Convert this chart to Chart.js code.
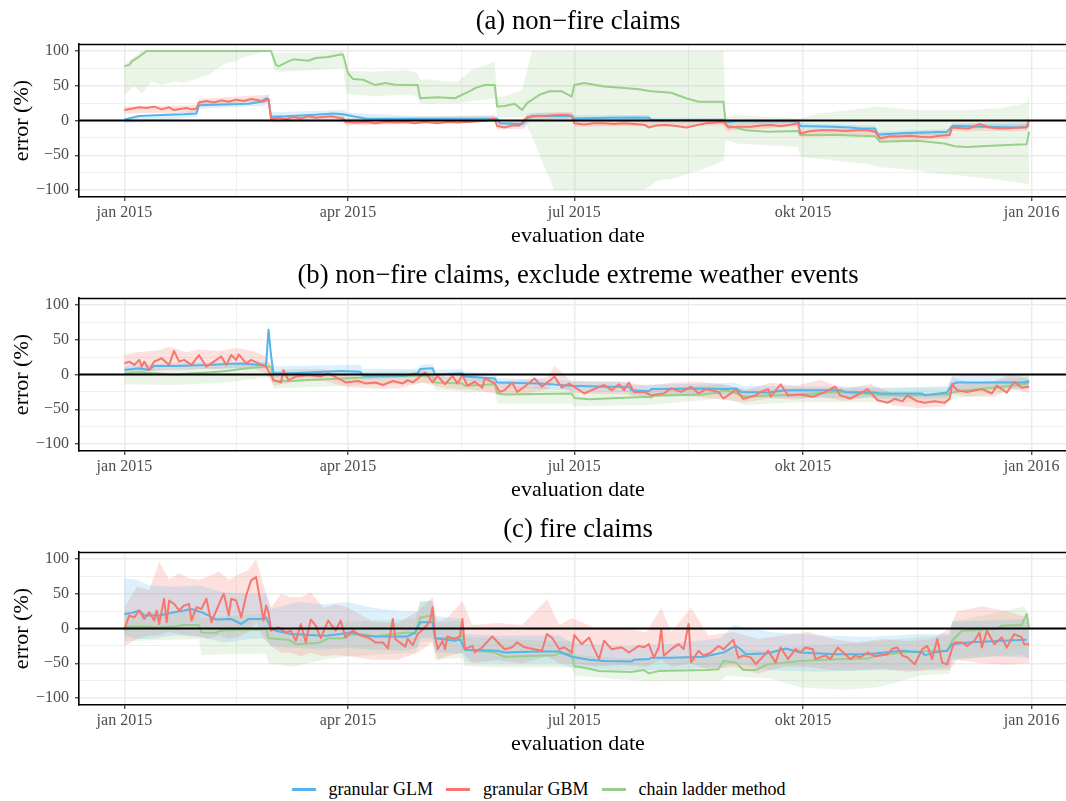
<!DOCTYPE html>
<html><head><meta charset="utf-8">
<script src="https://cdn.jsdelivr.net/npm/chart.js@4.4.1/dist/chart.umd.min.js"></script>
<style>
html,body{margin:0;padding:0;width:1066px;height:801px;overflow:hidden;background:#fff;}
.panel{position:absolute;left:0;width:1077px;height:254px;}
#legend{position:absolute;left:0;top:770px;width:1077px;height:39px;display:flex;justify-content:center;align-items:center;font-family:"Liberation Serif",serif;font-size:18px;color:#000;}
.item{display:flex;align-items:center;margin-right:13px;}
.item:last-child{margin-right:0;}
.sw{width:24px;height:2.6px;margin-right:13px;}
</style></head><body>
<div class="panel" style="top:0px"><canvas id="cA" width="1077" height="254"></canvas></div>
<div class="panel" style="top:254px"><canvas id="cB" width="1077" height="254"></canvas></div>
<div class="panel" style="top:508px"><canvas id="cC" width="1077" height="254"></canvas></div>
<div id="legend"></div>
<script>
// ---------------- data (day of 2015 = 0 .. 364, error in %) ----------------
const xTickDays = [0, 90, 181, 273, 365];
const xTickLabels = ['jan 2015', 'apr 2015', 'jul 2015', 'okt 2015', 'jan 2016'];
const xMinorDays = [45, 135.5, 227, 319];
const yTickValues = [-100, -50, 0, 50, 100];
const yMinorValues = [-75, -25, 25, 75];
const seriesNames = ['granular GLM', 'granular GBM', 'chain ladder method'];
const panelTitles = ['(a) non\u2212fire claims', '(b) non\u2212fire claims, exclude extreme weather events', '(c) fire claims'];

// panel (a): [day, value]; bands: [day, lower, upper]
const glmA = [[0,1],[3,4],[6,6.5],[15,8],[24,9],[29,10],[30,22],[40,23],[50,24],[55,27],[57,32],[58,30],[59,5.5],[65,6],[75,8],[84,10],[88,9],[92,6],[97,3],[110,2.7],[130,2.5],[150,2.7],[151,-4],[160,-5],[162,3],[164,6.5],[180,6.5],[181,3],[195,4],[205,4.5],[211,4],[212,0.7],[241,0.7],[242,-3],[246,-1],[271,-0.7],[272,-8],[285,-9],[292,-10],[296,-11.4],[302,-11.4],[303,-20],[315,-18],[331,-16.2],[333,-8],[345,-9],[360,-10],[363,-9],[364,-6.5]];
const glmA_band = [[0,-4,4],[29,5,14],[30,17,27],[56,21,32],[58,24,38],[59,0,12],[88,4,15],[90,1,11],[120,-1,6],[150,-1,6],[151,-8,0],[161,-9,-1],[164,1,11],[180,2,11],[181,-1,8],[211,0,8],[212,-3,4],[241,-3,4],[242,-6,1],[271,-4,2],[272,-12,-4],[302,-15,-7],[303,-24,-16],[332,-20,-12],[333,-12,-4],[364,-11,-2]];
const gbmA = [[0,15],[3,17],[6,19],[9,18],[12,20],[15,16],[18,19],[20,15],[23,17],[25,18],[27,16],[29,17],[30,26],[33,28],[36,26],[39,29],[42,27],[45,30],[48,28],[51,31],[54,29],[56,27],[58,31],[59,2],[62,4],[65,2],[68,5],[71,3],[74,6],[77,4],[80,5],[83,6],[86,4],[88,3],[89,-2],[93,-3],[97,-2],[101,-4],[105,-2],[109,-3],[113,-2],[117,-4],[121,-2],[126,-4],[130,-2],[134,-3],[138,-2],[142,-1],[146,0],[149,3],[150,-8],[153,-10],[156,-7],[159,-7],[162,5],[166,6.5],[170,7],[174,8],[178,8],[180,7],[181,-4],[185,-5.6],[189,-4],[193,-4],[197,-5],[201,-4],[205,-5],[209,-6],[211,-10],[214,-7],[218,-6.5],[222,-8],[226,-10],[230,-7],[234,-4],[238,-3],[241,-2],[243,-10],[247,-9],[252,-9],[256,-7],[260,-6.5],[264,-8],[268,-6],[271,-4],[272,-18.6],[276,-15],[280,-14],[285,-14],[290,-15],[295,-14],[299,-14],[302,-16],[304,-25.8],[308,-22.5],[312,-23],[316,-22],[320,-23.4],[324,-24],[328,-22],[332,-21],[333,-10],[337,-11],[340,-11.4],[344,-5],[348,-10],[352,-11.4],[356,-11],[360,-10],[363,-10],[364,1]];
const gbmA_band = [[0,10,20],[29,12,22],[30,21,31],[58,26,37],[59,-3,7],[88,-2,8],[89,-7,3],[149,-2,8],[150,-13,-3],[161,-12,-2],[162,0,10],[180,3,13],[181,-9,1],[241,-7,3],[242,-15,-5],[271,-9,1],[272,-24,-13],[302,-21,-11],[304,-31,-20],[332,-26,-16],[333,-15,-5],[363,-15,-5],[364,-4,6]];
const clmA = [[0,78],[2,80],[3,85],[6,92],[9,100],[59,100],[61,80],[62,78],[66,85],[68,88],[74,86],[77,90],[82,91.5],[87,95],[88,95],[90,68],[92,59.6],[96,58.7],[101,51],[105,54],[109,51.4],[113,51],[118,51],[119,32],[126,33.6],[133,32],[137,39],[140,44],[141,46.6],[145,51],[149,51],[150,20],[153,21],[157,24],[160,15],[162,25],[167,37],[171,42],[176,42],[180,34.5],[181,51],[185,54],[193,49],[200,47],[207,45],[212,42],[220,40],[226,32],[231,27],[241,27],[242,-6.5],[247,-11],[250,-14],[259,-16],[271,-15],[272,-21],[286,-21],[302,-22.5],[304,-30.7],[319,-29],[330,-33],[334,-37],[339,-38],[353,-35.5],[363,-34],[364,-16]];
const clmA_band = [[0,37,80],[4,49,92],[7,39,100],[11,56,100],[15,51,100],[20,56,100],[24,54,100],[28,59,100],[34,66,100],[37,73,100],[41,83,100],[45,85,100],[47,90,100],[55,98,100],[59,100,100],[60,75,97],[61,70,97],[75,72,98],[88,76,100],[89,45,80],[90,38,72],[100,35,70],[113,37,73],[118,35,68],[119,25,59],[124,24,59],[129,25,56],[134,25,56],[140,28,73],[144,30,78],[149,32,85],[150,5,34],[153,5,35],[160,5,44],[164,-23,100],[169,-67,100],[173,-100,100],[209,-100,100],[215,-86,100],[220,-84,100],[233,-70,100],[241,-58,100],[242,-28,5],[246,-33,8],[271,-38,3],[272,-52,3],[279,-55,10],[292,-60,15],[299,-62,18],[303,-67,20],[319,-72,15],[326,-76,15],[339,-80,15],[353,-86,18],[363,-91,25],[364,-91,37]];

// panel (b)
const glmB = [[0,6.5],[6,9],[10,6.5],[12,12.3],[20,12.3],[34,13.8],[41,15.2],[47,16],[55,13.8],[57,13],[58,64.5],[59,28],[60,1.7],[67,1.7],[74,3],[87,5],[95,4],[96,-1.7],[113,-1.7],[118,1.7],[119,8],[124,9],[125,0],[136,1.7],[137,-3],[149,-5.6],[150,-11.4],[167,-12.8],[180,-16],[193,-17.6],[203,-17.6],[204,-22.5],[211,-24],[212,-21],[233,-20],[242,-21],[246,-20],[248,-25],[259,-25.8],[266,-22.5],[272,-22.5],[288,-22.5],[290,-25],[302,-26],[304,-27.3],[321,-27.3],[322,-29.7],[331,-25.8],[333,-14],[335,-11.4],[362,-11.4],[364,-9.4]];
const glmB_band = [[0,2,12],[20,8,17],[57,9,18],[58,55,76],[59,20,36],[60,-4,12],[95,-2,14],[96,-7,8],[118,-4,8],[119,2,14],[124,3,15],[125,-6,6],[136,-4,8],[137,-9,4],[149,-12,2],[150,-18,-5],[180,-23,-9],[203,-25,-11],[204,-30,-15],[246,-28,-12],[248,-33,-16],[302,-34,-18],[304,-35,-19],[331,-34,-17],[333,-24,-2],[364,-19,2]];
const gbmB = [[0,16],[2,18.6],[4,13.8],[6,21],[7,11.4],[8,18.6],[10,6.5],[12,18.6],[15,23.4],[18,13.8],[20,34],[22,18.6],[24,21],[27,13.8],[30,28],[33,11.4],[35,16],[39,26],[41,13.8],[43,28],[45,21],[46,29],[49,16],[51,21],[54,16],[57,11.4],[60,-8],[63,-11.4],[64,6.5],[66,-8],[69,-3],[74,-0.7],[79,-3],[82,1.7],[86,-5.6],[89,-11.4],[94,-9.4],[97,-12.8],[101,-11.4],[104,-15],[108,-9.4],[112,-12.8],[114,-8],[116,-11.4],[118,-5.6],[121,3],[124,-11.4],[126,-2],[129,-14],[132,-2],[134,-13],[136,-0.7],[138,-16],[141,-10.4],[144,-19],[145,-5.6],[149,-12.8],[151,-25],[153,-22.5],[156,-11.4],[158,-25],[161,-17.6],[165,-5.6],[168,-17.6],[173,-3.1],[176,-19],[179,-13],[183,-22.5],[185,-27.3],[189,-21],[193,-15],[196,-22.5],[199,-14],[201,-22.5],[203,-11.4],[205,-25],[209,-25],[212,-30],[217,-27.3],[220,-20],[224,-25],[228,-17.6],[231,-27.3],[234,-21],[239,-25],[241,-34.5],[246,-22],[249,-35],[254,-30],[256,-25],[259,-21],[260,-32],[264,-14],[267,-30],[272,-28.7],[277,-32],[282,-25],[286,-17.6],[288,-30],[292,-34.5],[296,-27.3],[299,-21],[303,-37],[307,-40.6],[310,-35],[313,-38.6],[315,-30],[319,-38.6],[322,-40.6],[326,-38.6],[330,-40.6],[332,-35],[333,-14],[335,-22.5],[339,-25],[345,-21],[349,-27.3],[351,-16],[355,-26],[358,-10.4],[361,-19],[364,-17.6]];
const gbmB_band = [[0,5,28],[5,3,32],[14,6,35],[18,6,40],[25,6,32],[30,8,36],[38,8,34],[45,10,38],[52,8,34],[57,2,26],[60,-16,5],[70,-10,8],[80,-9,8],[90,-18,-2],[100,-20,-4],[110,-20,-2],[120,-12,6],[130,-20,-4],[140,-22,0],[150,-28,-10],[160,-28,-8],[170,-22,-4],[173,-12,12],[180,-26,-10],[190,-28,-10],[200,-28,-10],[210,-32,-16],[220,-30,-12],[230,-32,-10],[240,-36,-14],[250,-40,-22],[260,-34,-12],[270,-36,-16],[280,-32,-8],[290,-38,-20],[300,-32,-14],[310,-45,-28],[320,-48,-30],[330,-46,-30],[333,-28,-4],[340,-32,-12],[350,-32,-10],[357,-20,2],[364,-27,-7]];
const clmB = [[0,1.7],[7,3],[20,0],[34,3],[41,5],[47,8],[57,11.4],[59,11],[60,-9.4],[67,-9.4],[74,-8],[88,-5.6],[101,-3.1],[117,-1.7],[119,-1.7],[124,-3],[125,-11.4],[136,-12.8],[137,-16],[149,-14],[150,-27.3],[153,-28.7],[180,-27.3],[181,-33.6],[187,-35.5],[211,-32],[212,-33],[213,-30.7],[233,-28.7],[239,-26],[241,-22.5],[245,-25],[246,-27.3],[250,-32],[259,-30],[272,-28.7],[286,-25],[290,-26],[302,-28.7],[313,-30],[326,-29],[331,-28.7],[334,-25],[339,-22.5],[353,-17.6],[362,-14],[364,-11.4]];
const clmB_band = [[0,-14,9],[20,-15,8],[40,-12,12],[57,-4,18],[59,-4,18],[60,-20,-2],[90,-16,3],[124,-12,6],[125,-22,-4],[136,-24,-5],[137,-26,-8],[149,-24,-6],[150,-42,-18],[180,-42,-18],[181,-46,-24],[211,-44,-22],[241,-34,-14],[250,-44,-22],[272,-40,-20],[302,-40,-20],[331,-40,-19],[334,-35,-16],[364,-20,-3]];

// panel (c)
const glmC = [[0,21],[3,22.5],[6,26],[8,18.6],[14,18.6],[20,23.4],[24,26],[27,28],[31,23.4],[34,18.6],[37,12.8],[43,13.8],[47,6.5],[50,13.8],[55,13.8],[57,16],[59,0],[61,-3.1],[67,-8],[74,-9.4],[81,-10.4],[87,-8],[91,-5.6],[95,-9.4],[101,-11.4],[114,-11.4],[117,-5.6],[119,9],[124,9],[125,-14],[133,-17.6],[135,-15],[137,-30.7],[150,-32],[153,-34.5],[166,-33],[175,-33],[180,-40.6],[187,-45],[193,-46.6],[204,-47.6],[205,-45],[211,-44],[212,-42],[220,-42],[233,-40.6],[241,-34.5],[244,-28.7],[246,-25],[248,-30],[250,-37],[259,-35.5],[266,-28.7],[272,-34.5],[286,-37],[299,-37],[313,-32],[321,-34.5],[322,-38.6],[326,-34],[331,-32],[333,-22.5],[339,-20],[353,-17.6],[363,-16]];
const glmC_band = [[0,-10,72],[5,-15,70],[10,-15,62],[20,-10,60],[30,-12,62],[40,-20,52],[50,-15,50],[57,-14,50],[59,-26,28],[70,-28,38],[80,-30,35],[90,-28,38],[100,-30,30],[112,-32,25],[118,-28,25],[119,-14,40],[124,-14,40],[125,-34,18],[136,-36,14],[137,-48,-8],[150,-50,-10],[175,-50,-10],[180,-57,-20],[200,-60,-26],[220,-60,-22],[240,-55,-14],[245,-50,5],[260,-60,-5],[280,-62,-10],[300,-60,-12],[320,-60,-8],[332,-56,-8],[333,-44,10],[350,-40,12],[364,-42,14]];
const gbmC = [[0,0],[2,18.6],[4,16],[6,26],[8,13.8],[10,23.4],[12,11.4],[13,26],[14,6.5],[16,42.8],[17,9],[18,40.3],[20,35.5],[22,26],[24,33],[26,35.5],[27,11.4],[29,30.7],[31,28],[33,42.8],[35,9],[37,26],[39,42.8],[40,50],[42,18.6],[43,42.8],[45,40.3],[47,16],[49,47.6],[51,69.3],[53,74],[55,33],[56,11.4],[57,33],[58,23.4],[59,-3.1],[62,1.7],[65,-5.6],[67,-3],[69,-17.6],[71,6.5],[73,-20],[74,-3],[75,12.8],[77,4],[79,-14],[82,11.4],[85,-3],[87,11.4],[89,-12.8],[92,-3],[95,-10],[98,-12.8],[101,-20],[104,-20],[106,-28.7],[108,13.8],[109,-15],[113,-26],[114,-15],[116,-24],[118,-8],[121,1.7],[123,11],[124,30.7],[125,-10],[126,-29.7],[128,-18],[129,-29.7],[130,-11.4],[133,-15],[135,-11.4],[136,13.8],[137,-29.7],[140,-25],[141,-34.5],[144,-27],[148,-11.4],[150,-19],[153,-29.7],[156,-27],[158,-20],[161,-27],[165,-29.7],[168,-32],[170,-8],[172,-13],[175,-29.7],[177,-27],[180,-34.5],[181,-9.4],[184,-22.5],[187,-13],[189,-29.7],[191,-44],[193,-17.6],[196,-29.7],[200,-27],[203,-34.5],[207,-25],[209,-27],[211,-22.5],[213,-42],[215,-27],[216,-0.7],[217,-39],[220,-29.7],[223,-22.5],[225,-29.7],[227,6.5],[228,-49],[231,-32],[233,-39],[236,-34.5],[239,-25],[241,-29.7],[245,-16],[247,-42],[249,-39],[252,-41.5],[254,-51.4],[256,-44],[259,-32],[262,-49],[264,-27.3],[267,-44],[270,-29.7],[272,-34.5],[274,-27.3],[277,-29.7],[278,-44],[282,-38.6],[284,-44],[287,-27.3],[290,-37],[292,-44],[294,-39],[296,-41.5],[299,-34.5],[302,-40],[307,-37],[309,-29],[311,-27.3],[313,-39],[315,-41.5],[318,-51.4],[321,-29.7],[323,-25],[325,-44],[327,-15],[329,-49],[331,-51.4],[333,-28.7],[334,-20],[337,-20],[339,-25],[342,-17.6],[344,-5.6],[345,-27.3],[347,-3.1],[350,-22.5],[353,-12.8],[355,-27.3],[358,-8],[361,-12.8],[362,-22.5],[364,-22.5]];
const gbmC_band = [[0,-25,30],[5,-15,60],[10,-10,55],[14,-10,96],[18,-5,70],[22,-8,80],[26,-10,72],[30,-12,70],[34,-15,75],[38,-10,82],[42,-15,70],[46,-12,78],[50,-5,85],[53,10,100],[56,-15,62],[59,-25,30],[63,-35,50],[67,-35,45],[71,-40,45],[75,-35,52],[80,-40,30],[85,-38,35],[90,-40,30],[100,-45,10],[110,-45,8],[118,-35,25],[124,-20,45],[126,-45,10],[130,-40,15],[136,-35,40],[140,-50,5],[150,-45,8],[160,-50,5],[170,-40,42],[175,-50,5],[180,-50,15],[190,-55,0],[200,-52,0],[210,-55,-5],[216,-45,30],[220,-55,-5],[228,-50,30],[235,-60,-10],[245,-55,-5],[255,-65,-15],[265,-55,-10],[275,-55,-5],[285,-60,-15],[295,-60,-20],[305,-58,-15],[315,-62,-18],[325,-60,-15],[332,-60,0],[335,-45,25],[345,-50,32],[355,-52,25],[364,-50,15]];
const clmC = [[0,-3],[1,3],[7,3],[14,1.7],[20,3],[24,5],[30,5],[31,-5.6],[37,-6.5],[38,-3.1],[45,-1.7],[55,-1.7],[57,0],[58,-14],[66,-16],[69,-22.5],[78,-21],[82,-14],[88,-14],[90,-9.4],[95,-8],[101,-11.4],[108,-8],[114,-5.6],[117,-7],[119,16],[124,18.6],[125,-14],[133,-14],[136,-9.4],[137,-30.7],[149,-34.5],[153,-40.6],[173,-38.6],[175,-35.5],[180,-37],[181,-54],[185,-56.3],[191,-61],[204,-62.5],[209,-59.7],[211,-64.5],[215,-61],[234,-59.7],[239,-58.7],[241,-46.6],[246,-49],[249,-59.7],[254,-59.7],[259,-51.4],[272,-46.6],[286,-44.2],[299,-43],[303,-39],[313,-34.5],[326,-32],[331,-32],[333,-17.6],[337,-3.1],[351,-0.7],[353,4],[361,5],[363,21],[364,0]];
const clmC_band = [[0,-18,23],[30,-15,25],[31,-38,15],[57,-36,22],[58,-50,5],[68,-55,-2],[80,-45,4],[90,-40,10],[117,-35,14],[119,-20,38],[124,-18,40],[125,-45,8],[136,-42,12],[137,-54,-12],[150,-56,-15],[174,-56,-18],[180,-56,-18],[181,-68,-38],[210,-76,-45],[240,-75,-40],[242,-68,-30],[260,-72,-32],[272,-85,-25],[290,-88,-22],[303,-85,-18],[320,-68,-12],[332,-65,-10],[333,-46,10],[350,-40,22],[362,-38,32],[364,-45,20]];

// ---------------- styling ----------------
const X_MIN = -18.25, X_MAX = 383.25, Y_MIN = -110, Y_MAX = 110;
const FONT = '"Liberation Serif", "Times New Roman", serif';
const COLORS = ['#56B4E9', '#F8766D', '#98CF8B'];
const BANDS = ['rgba(86,180,233,0.2)', 'rgba(248,118,109,0.22)', 'rgba(152,207,139,0.2)'];
const GRID_MAJOR = '#EBEBEB';

const toPts = a => a.map(r => ({x: r[0], y: r[1]}));
const toLo = a => a.map(r => ({x: r[0], y: r[1]}));
const toHi = a => a.map(r => ({x: r[0], y: r[2]}));
const minus = v => (v < 0 ? '\u2212' + Math.abs(v) : String(v));

const frameTop = {
  id: 'frameTop',
  afterDraw(chart) {
    const {ctx, chartArea: a} = chart;
    ctx.save();
    ctx.strokeStyle = '#000';
    ctx.lineWidth = 1.6;
    ctx.beginPath();
    ctx.moveTo(a.left - 0.8, Math.round(a.top) + 0.5);
    ctx.lineTo(a.right, Math.round(a.top) + 0.5);
    ctx.stroke();
    ctx.restore();
  }
};

function bandSets(band, i) {
  return [
    {data: toLo(band), borderColor: 'rgba(0,0,0,0)', borderWidth: 0, pointRadius: 0, fill: false, order: 10 + i},
    {data: toHi(band), borderColor: 'rgba(0,0,0,0)', borderWidth: 0, pointRadius: 0, fill: '-1', backgroundColor: BANDS[i], order: 10 + i}
  ];
}
function lineSet(arr, i, order) {
  return {data: toPts(arr), borderColor: COLORS[i], borderWidth: 2, pointRadius: 0, fill: false, tension: 0, order: order, borderJoinStyle: 'round'};
}

function makePanel(id, title, glm, glmBand, gbm, gbmBand, clm, clmBand) {
  const datasets = [
    ...bandSets(clmBand, 2),
    ...bandSets(glmBand, 0),
    ...bandSets(gbmBand, 1),
    lineSet(clm, 2, 4),
    lineSet(glm, 0, 3),
    lineSet(gbm, 1, 2),
    {data: [{x: X_MIN, y: 0}, {x: X_MAX, y: 0}], borderColor: '#000', borderWidth: 2, pointRadius: 0, fill: false, order: 0}
  ];
  new Chart(document.getElementById(id), {
    type: 'line',
    data: {datasets},
    plugins: [frameTop],
    options: {
      responsive: false,
      animation: false,
      events: [],
      layout: {padding: 0},
      plugins: {
        legend: {display: false},
        tooltip: {enabled: false},
        filler: {drawTime: 'beforeDatasetsDraw'},
        title: {display: true, text: title, fullSize: false, color: '#000',
          font: {family: FONT, size: 26.7, weight: 'normal'}, padding: {top: 6.4, bottom: 5.6}}
      },
      scales: {
        x: {
          type: 'linear', min: X_MIN, max: X_MAX,
          afterBuildTicks: s => { s.ticks = [...xTickDays, ...xMinorDays].sort((a, b) => a - b).map(v => ({value: v})); },
          afterFit: s => { s.height = 57; s.paddingLeft = 0; s.paddingRight = 0; },
          ticks: {autoSkip: false, maxRotation: 0, padding: 2, color: '#4D4D4D',
            font: {family: FONT, size: 16},
            callback: v => { const k = xTickDays.indexOf(v); return k >= 0 ? xTickLabels[k] : ''; }},
          grid: {
            color: c => GRID_MAJOR,
            lineWidth: c => (c.tick && xTickDays.includes(c.tick.value)) ? 1.5 : 0.8,
            drawTicks: true, tickLength: 4, tickWidth: 1.2,
            tickColor: c => (c.tick && xTickDays.includes(c.tick.value)) ? '#333' : 'rgba(0,0,0,0)'
          },
          border: {display: true, color: '#000', width: 1.6},
          title: {display: true, text: 'evaluation date', color: '#000',
            font: {family: FONT, size: 22}, padding: {top: 0, bottom: 4.5}}
        },
        y: {
          type: 'linear', min: Y_MIN, max: Y_MAX,
          afterBuildTicks: s => { s.ticks = [...yTickValues, ...yMinorValues].sort((a, b) => a - b).map(v => ({value: v})); },
          afterFit: s => { s.width = 79; s.paddingTop = 0; s.paddingBottom = 0; },
          ticks: {autoSkip: false, padding: 6, color: '#4D4D4D',
            font: {family: FONT, size: 16},
            callback: v => yTickValues.includes(v) ? minus(v) : ''},
          grid: {
            color: c => GRID_MAJOR,
            lineWidth: c => (c.tick && yTickValues.includes(c.tick.value)) ? 1.5 : 0.8,
            drawTicks: true, tickLength: 4, tickWidth: 1.2,
            tickColor: c => (c.tick && yTickValues.includes(c.tick.value)) ? '#333' : 'rgba(0,0,0,0)'
          },
          border: {display: true, color: '#000', width: 1.6},
          title: {display: true, text: 'error (%)', color: '#000',
            font: {family: FONT, size: 22}, padding: {top: 9.3, bottom: 0}}
        }
      }
    }
  });
}

makePanel('cA', panelTitles[0], glmA, glmA_band, gbmA, gbmA_band, clmA, clmA_band);
makePanel('cB', panelTitles[1], glmB, glmB_band, gbmB, gbmB_band, clmB, clmB_band);
makePanel('cC', panelTitles[2], glmC, glmC_band, gbmC, gbmC_band, clmC, clmC_band);

// legend
const lg = document.getElementById('legend');
seriesNames.forEach((n, i) => {
  const it = document.createElement('div'); it.className = 'item';
  const sw = document.createElement('div'); sw.className = 'sw'; sw.style.background = COLORS[i];
  const tx = document.createElement('span'); tx.textContent = n;
  it.appendChild(sw); it.appendChild(tx); lg.appendChild(it);
});
</script>
</body></html>
